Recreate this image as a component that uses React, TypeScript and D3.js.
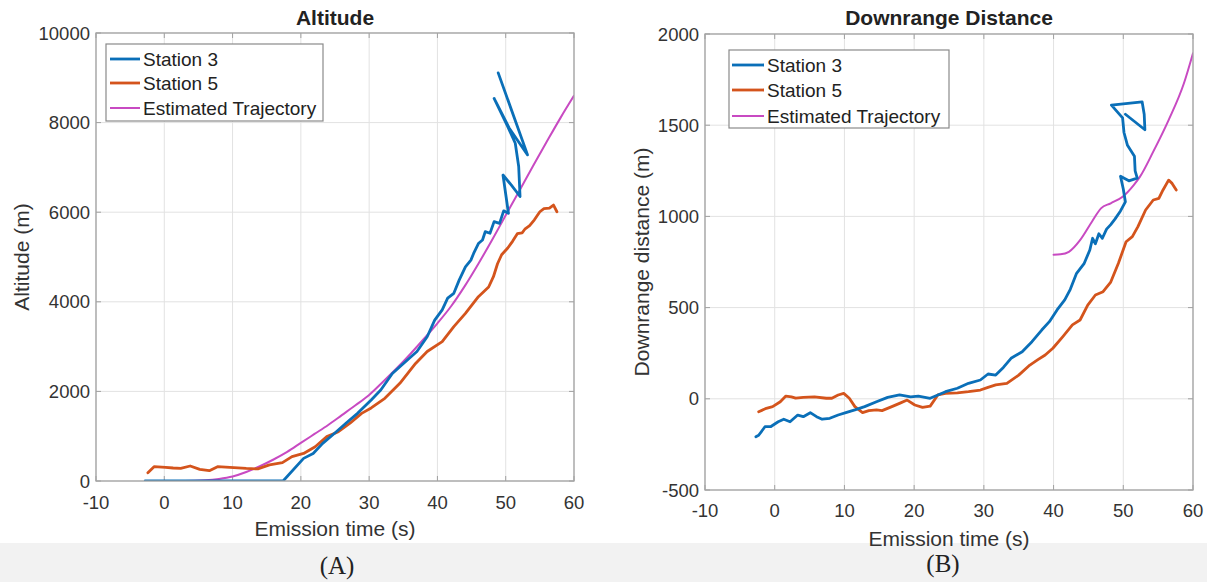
import React from "react";
import * as d3 from "d3";

// axis ticks
const timeTicks = [-10, 0, 10, 20, 30, 40, 50, 60];
const altTicks = [0, 2000, 4000, 6000, 8000, 10000];
const drTicks = [-500, 0, 500, 1000, 1500, 2000];

const seriesNames = ["Station 3", "Station 5", "Estimated Trajectory"];
const seriesColors = ["#0a6fb8", "#d4541c", "#c84ac2"];

// altitude (m) vs emission time (s)
const altStation3: [number, number][] = [
  [-2.8, 0], [17.4, 0], [20.4, 505], [21.8, 615], [23.2, 840], [24.9, 1060], [26.6, 1290],
  [28.3, 1510], [30.3, 1810], [31.7, 2030], [33.4, 2400], [35.6, 2700], [37.0, 2890],
  [38.5, 3220], [39.6, 3590], [40.7, 3820], [41.5, 4080], [42.4, 4190], [43.2, 4490],
  [44.1, 4780], [44.9, 4930], [45.3, 5080], [46.0, 5300], [46.6, 5380], [47.0, 5565],
  [47.7, 5530], [48.3, 5790], [49.1, 5750], [49.7, 6030], [50.4, 5975], [49.6, 6830],
  [50.8, 6610], [52.1, 6350], [51.9, 7020], [51.4, 7540], [50.3, 7910], [48.3, 8540],
  [50.5, 7880], [51.7, 7610], [53.2, 7280], [48.9, 9110],
];
const altStation5: [number, number][] = [
  [-2.4, 185], [-1.5, 320], [0.2, 305], [1.3, 290], [2.4, 280], [3.8, 335], [5.2, 260],
  [6.6, 230], [7.8, 320], [9.6, 305], [12.0, 280], [13.7, 270], [15.4, 360], [17.3, 410],
  [18.7, 545], [20.4, 615], [22.1, 765], [23.8, 990], [25.5, 1100], [27.2, 1290],
  [28.9, 1510], [30.3, 1630], [32.3, 1845], [34.5, 2180], [36.8, 2625], [38.5, 2890],
  [40.7, 3110], [42.4, 3445], [44.1, 3740], [46.0, 4115], [47.5, 4330], [48.2, 4560],
  [48.8, 4850], [49.4, 5050], [50.3, 5200], [51.0, 5350], [51.7, 5520], [52.4, 5540],
  [52.8, 5620], [53.5, 5700], [54.2, 5830], [55.0, 6010], [55.6, 6080], [56.4, 6090],
  [57.0, 6160], [57.5, 6010],
];
const altEstimated: [number, number][] = [
  [0, 0], [3, 0], [6, 15], [8, 45], [10, 100], [12, 200], [14, 330], [16, 480], [18, 650],
  [20, 850], [22, 1050], [24, 1250], [26, 1470], [28, 1690], [30, 1920], [32, 2210],
  [34, 2510], [36, 2830], [38, 3170], [40, 3520], [42, 3900], [44, 4350], [46, 4850],
  [48, 5380], [50, 5930], [52, 6480], [54, 7030], [56, 7570], [58, 8100], [60, 8600],
];

// downrange distance (m) vs emission time (s)
const drStation3: [number, number][] = [
  [-2.7, -208], [-2.3, -200], [-1.4, -153], [-0.6, -153], [0.5, -126], [1.3, -112],
  [2.2, -126], [3.3, -89], [4.1, -98], [5.1, -76], [6.0, -98], [6.8, -112], [7.9, -107],
  [9.1, -89], [10.2, -76], [11.5, -61], [12.9, -43], [14.6, -16], [16.2, 8], [17.9, 21],
  [19.5, 11], [20.6, 15], [22.3, 3], [23.4, 21], [24.5, 39], [26.2, 58], [27.8, 85],
  [29.5, 103], [30.6, 136], [31.7, 130], [32.8, 172], [33.9, 222], [35.5, 258],
  [36.9, 313], [38.3, 377], [39.4, 423], [40.5, 487], [41.6, 542], [42.4, 600],
  [43.3, 688], [44.4, 743], [45.2, 816], [45.6, 880], [46.0, 850], [46.5, 905],
  [47.0, 880], [47.6, 930], [48.2, 955], [48.8, 985], [49.6, 1030], [50.3, 1080],
  [50.0, 1150], [49.6, 1220], [50.8, 1195], [52.0, 1210], [51.7, 1250], [51.6, 1330],
  [50.6, 1390], [50.1, 1460], [49.9, 1540], [48.3, 1610], [52.7, 1628], [53.0, 1560],
  [53.1, 1475], [50.3, 1560],
];
const drStation5: [number, number][] = [
  [-2.3, -71], [-1.2, -52], [-0.3, -43], [0.8, -16], [1.6, 15], [2.4, 11], [3.0, 4],
  [4.1, 8], [5.7, 11], [7.4, 3], [8.2, 3], [9.1, 21], [9.9, 30], [10.7, 3], [11.5, -43],
  [12.6, -76], [13.5, -65], [14.6, -61], [15.4, -65], [16.8, -43], [17.9, -25], [19.0, -7],
  [20.1, -34], [21.2, -47], [22.3, -40], [23.4, 21], [24.5, 30], [26.2, 33], [27.8, 39],
  [29.5, 48], [30.6, 63], [31.7, 76], [33.3, 85], [35.0, 130], [36.6, 185], [37.7, 213],
  [38.8, 240], [39.9, 277], [41.3, 340], [42.7, 405], [43.8, 432], [44.9, 514],
  [46.0, 569], [47.1, 587], [48.2, 640], [49.3, 743], [50.4, 861], [51.3, 889],
  [52.1, 944], [53.2, 1035], [54.3, 1090], [55.1, 1099], [55.7, 1145], [56.5, 1199],
  [57.0, 1181], [57.6, 1145],
];
const drEstimated: [number, number][] = [
  [40, 790], [41, 792], [42.2, 806], [43.8, 870], [45.5, 971], [46.8, 1044], [48.2, 1072],
  [49.9, 1108], [51.5, 1172], [52.4, 1218], [54.3, 1355], [56.5, 1528], [58.7, 1730],
  [60, 1895],
];

const font = "'Liberation Sans', Arial, sans-serif";
const textColor = "#333";

type Box = { x: number; y: number; w: number; h: number };

interface PanelProps {
  id: string;
  plot: { x0: number; x1: number; y0: number; y1: number };
  yDomain: [number, number];
  yTicks: number[];
  series: [number, number][][];
  title: string;
  yLabel: string;
  yLabelX: number;
  xTickY: number;
  xLabelY: number;
  legend: Box;
  legendLine: [number, number];
  legendRows: number[];
}

function Panel(p: PanelProps) {
  const x = d3.scaleLinear().domain([-10, 60]).range([p.plot.x0, p.plot.x1]);
  const y = d3.scaleLinear().domain(p.yDomain).range([p.plot.y1, p.plot.y0]);
  const line = d3.line<[number, number]>().x(d => x(d[0])).y(d => y(d[1]));
  const smooth = d3
    .line<[number, number]>()
    .x(d => x(d[0]))
    .y(d => y(d[1]))
    .curve(d3.curveMonotoneX);
  const cx = (p.plot.x0 + p.plot.x1) / 2;
  const cy = (p.plot.y0 + p.plot.y1) / 2;
  const pw = p.plot.x1 - p.plot.x0;
  const ph = p.plot.y1 - p.plot.y0;

  return (
    <g>
      <defs>
        <clipPath id={p.id}>
          <rect x={p.plot.x0} y={p.plot.y0} width={pw} height={ph} />
        </clipPath>
      </defs>
      <rect x={p.plot.x0} y={p.plot.y0} width={pw} height={ph} fill="#fff" />
      {/* grid */}
      {timeTicks.map(t => (
        <line key={"gx" + t} x1={x(t)} x2={x(t)} y1={p.plot.y0} y2={p.plot.y1} stroke="#e2e2e2" strokeWidth={1} />
      ))}
      {p.yTicks.map(v => (
        <line key={"gy" + v} x1={p.plot.x0} x2={p.plot.x1} y1={y(v)} y2={y(v)} stroke="#e2e2e2" strokeWidth={1} />
      ))}
      {/* tick marks */}
      {timeTicks.map(t => (
        <g key={"tx" + t} stroke="#a0a0a0">
          <line x1={x(t)} x2={x(t)} y1={p.plot.y1} y2={p.plot.y1 - 5} />
          <line x1={x(t)} x2={x(t)} y1={p.plot.y0} y2={p.plot.y0 + 5} />
        </g>
      ))}
      {p.yTicks.map(v => (
        <g key={"ty" + v} stroke="#a0a0a0">
          <line x1={p.plot.x0} x2={p.plot.x0 + 5} y1={y(v)} y2={y(v)} />
          <line x1={p.plot.x1} x2={p.plot.x1 - 5} y1={y(v)} y2={y(v)} />
        </g>
      ))}
      {/* data */}
      <g clipPath={`url(#${p.id})`} fill="none" strokeLinejoin="round" strokeLinecap="round">
        <path d={smooth(p.series[2]) || ""} stroke={seriesColors[2]} strokeWidth={2} />
        <path d={line(p.series[1]) || ""} stroke={seriesColors[1]} strokeWidth={2.8} />
        <path d={line(p.series[0]) || ""} stroke={seriesColors[0]} strokeWidth={2.8} />
      </g>
      <rect x={p.plot.x0} y={p.plot.y0} width={pw} height={ph} fill="none" stroke="#a3a3a3" strokeWidth={1.3} />
      {/* tick labels */}
      {timeTicks.map(t => (
        <text key={"lx" + t} x={x(t)} y={p.xTickY} textAnchor="middle" dominantBaseline="central" fontFamily={font} fontSize={18.5} fill={textColor}>
          {t}
        </text>
      ))}
      {p.yTicks.map(v => (
        <text key={"ly" + v} x={p.plot.x0 - 6} y={y(v)} textAnchor="end" dominantBaseline="central" fontFamily={font} fontSize={18.5} fill={textColor}>
          {v}
        </text>
      ))}
      <text x={cx} y={17} textAnchor="middle" dominantBaseline="central" fontFamily={font} fontSize={21} fontWeight="bold" fill="#222">
        {p.title}
      </text>
      <text x={cx} y={p.xLabelY} textAnchor="middle" dominantBaseline="central" fontFamily={font} fontSize={21} fill={textColor}>
        Emission time (s)
      </text>
      <text transform={`translate(${p.yLabelX},${cy}) rotate(-90)`} textAnchor="middle" dominantBaseline="central" fontFamily={font} fontSize={21} fill={textColor}>
        {p.yLabel}
      </text>
      {/* legend */}
      <rect x={p.legend.x} y={p.legend.y} width={p.legend.w} height={p.legend.h} fill="#fff" stroke="#8a8a8a" strokeWidth={1.2} />
      {seriesNames.map((name, i) => (
        <g key={name}>
          <line x1={p.legendLine[0]} x2={p.legendLine[1]} y1={p.legendRows[i]} y2={p.legendRows[i]} stroke={seriesColors[i]} strokeWidth={i === 2 ? 2 : 2.8} />
          <text x={p.legendLine[1] + 3} y={p.legendRows[i]} dominantBaseline="central" fontFamily={font} fontSize={19} fill="#222">
            {name}
          </text>
        </g>
      ))}
    </g>
  );
}

export default function App() {
  return (
    <div style={{ position: "absolute", left: 0, top: 0 }}>
      <svg width={1207} height={582} viewBox="0 0 1207 582" style={{ display: "block", background: "#fff" }}>
        <rect x={0} y={543} width={1207} height={39} fill="#f2f2f2" />
        <Panel
          id="clipA"
          plot={{ x0: 96, x1: 574, y0: 33, y1: 481 }}
          yDomain={[0, 10000]}
          yTicks={altTicks}
          series={[altStation3, altStation5, altEstimated]}
          title="Altitude"
          yLabel="Altitude (m)"
          yLabelX={21}
          xTickY={502}
          xLabelY={528}
          legend={{ x: 106, y: 44, w: 217, h: 77 }}
          legendLine={[110, 140]}
          legendRows={[59, 83, 108]}
        />
        <Panel
          id="clipB"
          plot={{ x0: 705, x1: 1193, y0: 34, y1: 490 }}
          yDomain={[-500, 2000]}
          yTicks={drTicks}
          series={[drStation3, drStation5, drEstimated]}
          title="Downrange Distance"
          yLabel="Downrange distance (m)"
          yLabelX={641}
          xTickY={510}
          xLabelY={538}
          legend={{ x: 729, y: 50, w: 220, h: 78 }}
          legendLine={[732, 764]}
          legendRows={[65, 90, 116]}
        />
        <text x={337} y={565} textAnchor="middle" dominantBaseline="central" fontFamily="'Liberation Serif', 'Times New Roman', serif" fontSize={25} fill="#222">
          (A)
        </text>
        <text x={943} y={563} textAnchor="middle" dominantBaseline="central" fontFamily="'Liberation Serif', 'Times New Roman', serif" fontSize={25} fill="#222">
          (B)
        </text>
      </svg>
    </div>
  );
}
